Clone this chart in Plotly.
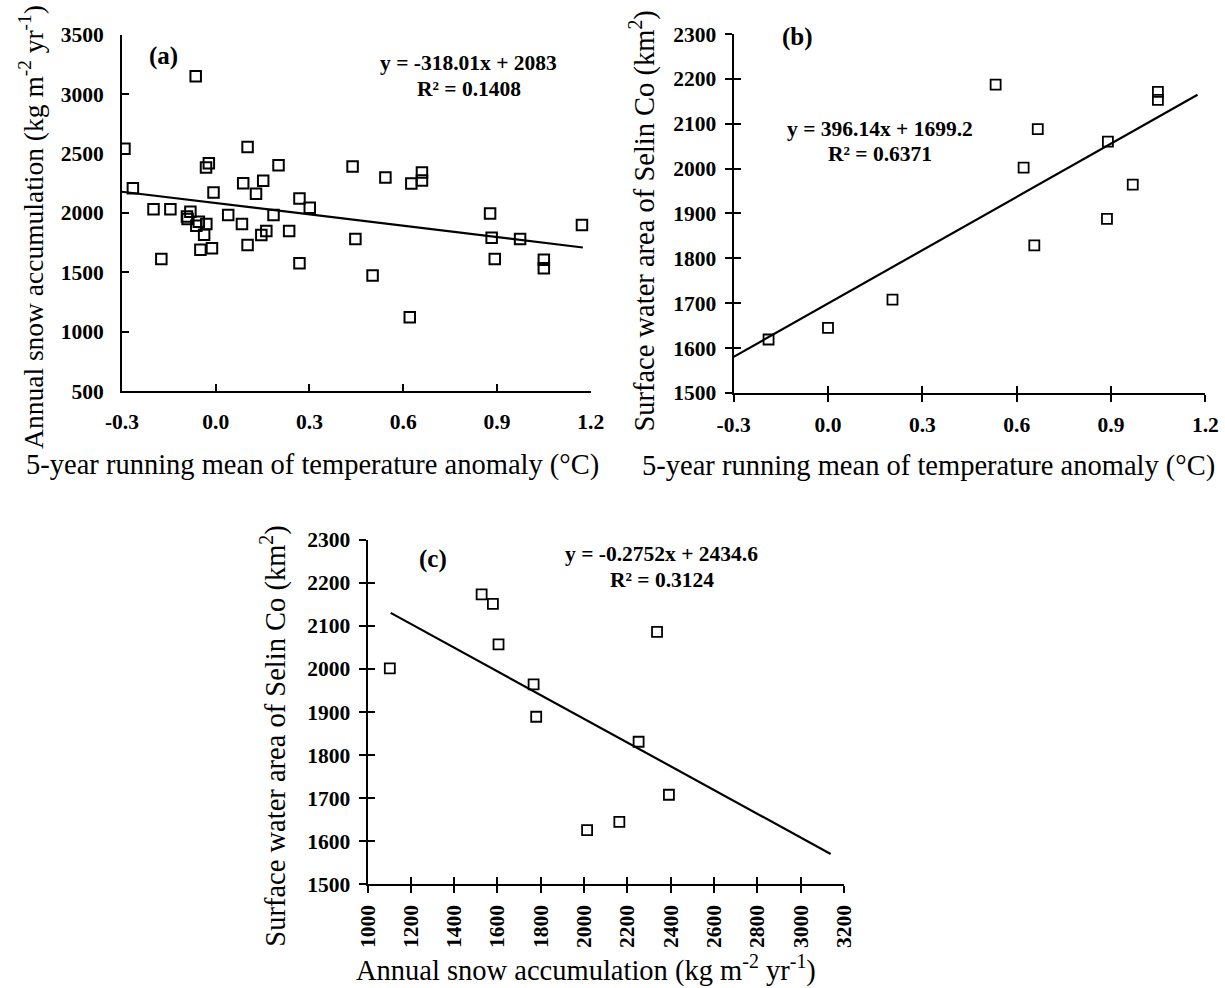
import plotly.graph_objects as go

W, H = 1225, 988

# ---------------- data ----------------
# Panel (a): 5-yr running mean temperature anomaly vs annual snow accumulation
a_temp = [-0.292, -0.265, -0.199, -0.145, -0.174, -0.064, -0.081, -0.092, -0.090, -0.054,
          -0.062, -0.030, -0.037, -0.049, -0.012, -0.031, -0.022, -0.007, 0.040, 0.084,
          0.088, 0.102, 0.102, 0.129, 0.152, 0.146, 0.162, 0.185, 0.201, 0.235,
          0.268, 0.268, 0.301, 0.438, 0.447, 0.502, 0.543, 0.621, 0.626, 0.660,
          0.660, 0.878, 0.883, 0.893, 0.974, 1.050, 1.050, 1.172]
a_snow = [2541, 2208, 2032, 2032, 1613, 3150, 2010, 1971, 1948, 1926,
          1892, 1906, 1817, 1691, 1702, 2382, 2418, 2172, 1982, 1906,
          2250, 2555, 1730, 2161, 2270, 1814, 1848, 1982, 2401, 1848,
          2122, 1576, 2043, 2390, 1780, 1473, 2298, 1123, 2247, 2340,
          2273, 1996, 1792, 1613, 1780, 1607, 1534, 1898]
a_fit = (-318.01, 2083.0)
a_fit_x = [-0.3, 1.175]

# Panel (b): temperature anomaly vs surface water area of Selin Co
b_temp = [-0.189, 0.0, 0.205, 0.533, 0.667, 0.622, 0.656, 0.890, 0.887, 0.969, 1.049, 1.049]
b_area = [1619, 1645, 1708, 2187, 2088, 2002, 1829, 2060, 1888, 1964, 2171, 2153]
b_fit = (396.14, 1699.2)
b_fit_x = [-0.3, 1.175]

# Panel (c): annual snow accumulation vs surface water area
c_snow = [1103, 1527, 1579, 1605, 1767, 1779, 2014, 2163, 2252, 2337, 2392]
c_area = [2001, 2173, 2151, 2057, 1964, 1889, 1626, 1645, 1831, 2086, 1708]
c_fit = (-0.2752, 2434.6)
c_fit_x = [1107, 3139]

# tick labels
t_vals = [-0.3, 0.0, 0.3, 0.6, 0.9, 1.2]
t_text = ["-0.3", "0.0", "0.3", "0.6", "0.9", "1.2"]
snow_ticks = [500, 1000, 1500, 2000, 2500, 3000, 3500]
area_ticks = [1500, 1600, 1700, 1800, 1900, 2000, 2100, 2200, 2300]
c_x_ticks = [1000, 1200, 1400, 1600, 1800, 2000, 2200, 2400, 2600, 2800, 3000, 3200]

# ---------------- helpers ----------------
# map a target-image pixel position to paper coordinates
OX, OY, S = 16.0, 12.0, 0.976

def px(x):
    return ((x - OX) / S) / W

def py(y):
    return 1 - ((y - OY) / S) / H

FONT = "Liberation Serif"
TICKFONT = dict(family=FONT, size=21.5, color="black", weight="bold")
BLACK = "black"

fig = go.Figure()

def add_panel(n, xs, ys, fit, fitx, msize, mwidth):
    xa = "x" if n == 1 else f"x{n}"
    ya = "y" if n == 1 else f"y{n}"
    fig.add_trace(go.Scatter(
        x=xs, y=ys, mode="markers", xaxis=xa, yaxis=ya,
        marker=dict(symbol="square-open", size=msize, color=BLACK,
                    line=dict(width=mwidth, color=BLACK)),
        showlegend=False, hoverinfo="x+y"))
    fy = [fit[0] * v + fit[1] for v in fitx]
    fig.add_trace(go.Scatter(
        x=fitx, y=fy, mode="lines", xaxis=xa, yaxis=ya,
        line=dict(color=BLACK, width=2.2), showlegend=False, hoverinfo="skip"))

add_panel(1, a_temp, a_snow, a_fit, a_fit_x, 10.5, 2)
add_panel(2, b_temp, b_area, b_fit, b_fit_x, 10, 1.8)
add_panel(3, c_snow, c_area, c_fit, c_fit_x, 10, 1.8)

# empty traces for overlay axes (inner part of crossing ticks)
fig.add_trace(go.Scatter(x=[None], y=[None], xaxis="x4", yaxis="y4", showlegend=False))
fig.add_trace(go.Scatter(x=[None], y=[None], xaxis="x5", yaxis="y5", showlegend=False))

def axis_common(**kw):
    d = dict(showgrid=False, zeroline=False, showline=True, linecolor=BLACK,
             linewidth=2, tickcolor=BLACK, tickwidth=2, ticklen=7,
             tickfont=TICKFONT, mirror=False)
    d.update(kw)
    return d

# domains (from target pixel positions)
a_dx = [px(121), px(590)]; a_dy = [py(392.3), py(35.7)]
b_dx = [px(733), px(1205)]; b_dy = [py(394), py(35)]
c_dx = [px(366.7), px(843.3)]; c_dy = [py(885.7), py(540.7)]

fig.update_layout(
    width=W, height=H, margin=dict(l=0, r=0, t=0, b=0),
    paper_bgcolor="white", plot_bgcolor="white",
    xaxis=axis_common(domain=a_dx, anchor="y", range=[-0.3, 1.2],
                      tickvals=t_vals, ticktext=t_text, ticks="inside",
                      ticklabelstandoff=10),
    yaxis=axis_common(domain=a_dy, anchor="x", range=[500, 3500],
                      tickvals=snow_ticks, ticks="inside", ticklabelstandoff=12),
    xaxis2=axis_common(domain=b_dx, anchor="y2", range=[-0.3, 1.2],
                       tickvals=t_vals, ticktext=t_text, ticks="outside",
                       ticklabelstandoff=4),
    yaxis2=axis_common(domain=b_dy, anchor="x2", range=[1500, 2300],
                       tickvals=area_ticks, ticks="outside", ticklabelstandoff=4),
    xaxis3=axis_common(domain=c_dx, anchor="y3", range=[1000, 3200],
                       tickvals=c_x_ticks, ticks="outside", tickangle=-90,
                       ticklabelstandoff=3),
    yaxis3=axis_common(domain=c_dy, anchor="x3", range=[1500, 2300],
                       tickvals=area_ticks, ticks="outside", ticklabelstandoff=4),
    # overlay axes giving the inward half of crossing ticks
    xaxis4=axis_common(domain=b_dx, anchor="y4", range=[-0.3, 1.2], tickvals=t_vals,
                       ticks="inside", showticklabels=False, overlaying="x2"),
    yaxis4=axis_common(domain=b_dy, anchor="x4", range=[1500, 2300], tickvals=area_ticks,
                       ticks="inside", showticklabels=False, overlaying="y2"),
    xaxis5=axis_common(domain=c_dx, anchor="y5", range=[1000, 3200], tickvals=c_x_ticks,
                       ticks="inside", showticklabels=False, overlaying="x3"),
    yaxis5=axis_common(domain=c_dy, anchor="x5", range=[1500, 2300], tickvals=area_ticks,
                       ticks="inside", showticklabels=False, overlaying="y3"),
)

def ann(text, x, y, size, bold=False, angle=0):
    fig.add_annotation(text=text, x=px(x), y=py(y), xref="paper", yref="paper",
                       showarrow=False, textangle=angle, xanchor="center", yanchor="middle",
                       font=dict(family=FONT, size=size, color=BLACK,
                                 weight="bold" if bold else "normal"))

# panel labels
ann("(a)", 163, 57, 25, bold=True)
ann("(b)", 797, 38, 25, bold=True)
ann("(c)", 432, 560, 25, bold=True)

# equations
ann("y = -318.01x + 2083", 468, 64, 21.5, bold=True)
ann("R² = 0.1408", 468, 90, 21.5, bold=True)
ann("y = 396.14x + 1699.2", 879, 130, 21.5, bold=True)
ann("R² = 0.6371", 879, 155, 21.5, bold=True)
ann("y = -0.2752x + 2434.6", 661, 555, 21.5, bold=True)
ann("R² = 0.3124", 661, 581, 21.5, bold=True)

# axis titles
unit_snow = "(kg m<sup>-2</sup> yr<sup>-1</sup>)"
ann("Annual snow accumulation " + unit_snow, 31, 228, 27.5, angle=-90)
ann("5-year running mean of temperature anomaly (°C)", 312, 466, 28.5)
ann("Surface water area of Selin Co (km<sup>2</sup>)", 642, 222, 28.5, angle=-90)
ann("5-year running mean of temperature anomaly (°C)", 928, 467, 28.5)
ann("Surface water area of Selin Co (km<sup>2</sup>)", 273, 737, 28.5, angle=-90)
ann("Annual snow accumulation " + unit_snow, 585, 970, 28.5)

fig.write_html(
    "out.html",
    config={"displayModeBar": False},
    post_script="document.body.style.margin='0';document.body.style.overflow='hidden';",
)
